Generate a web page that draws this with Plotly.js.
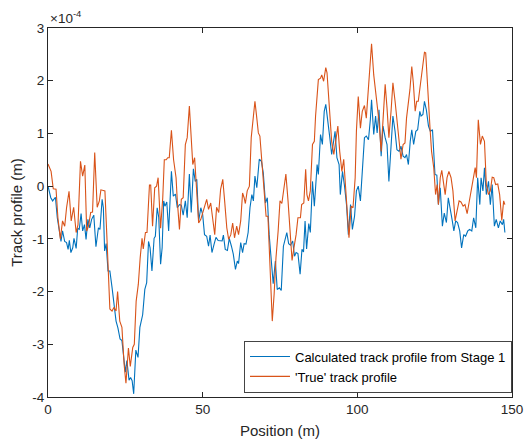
<!DOCTYPE html>
<html>
<head>
<meta charset="utf-8">
<script src="https://cdn.plot.ly/plotly-3.0.1.min.js"></script>
<style>html,body{margin:0;padding:0;background:#fff;}#chart{width:529px;height:441px;}</style>
</head>
<body>
<div id="chart"></div>
<script>
// Values in units of 1e-4 m (axis shows x10^-4 multiplier)
const posCalc = [0,0.9,1.5,1.9,2.4,3,3.7,4.2,4.7,5.4,6,6.5,6.9,7.4,8,8.4,9.1,9.6,10.1,10.7,11.2,11.8,12.3,12.9,13.5,14.1,14.8,15.5,16.3,16.8,17.5,17.9,18.3,18.8,19.4,20,20.7,21.3,22,22.6,23.3,23.9,24.4,25,25.5,26.2,26.7,27.2,27.7,28.4,29.1,29.7,30.6,31.3,31.9,32.5,33,33.6,34.3,34.7,35.3,35.8,36.4,36.9,37.4,37.8,38.4,39,39.9,40.5,41.2,41.8,42.5,43.1,43.7,44.4,45,45.7,46.3,47,47.6,48.1,48.7,49.4,50,50.6,51.3,51.9,52.4,53,53.7,54.3,55,55.6,56.3,56.7,57.3,58,58.6,59.3,59.9,60.6,61.2,61.6,62.3,62.9,63.4,64,64.7,65.3,65.9,66.4,66.9,67.5,67.9,68.3,69,69.6,70.3,70.9,71.5,72.2,72.8,73.5,74.1,74.8,75.4,76.1,76.5,77.2,77.8,78.4,79.1,79.7,80.2,80.8,81.5,82.1,82.6,83.1,83.6,84.3,84.8,85.5,86.1,87,87.4,88.1,88.7,89.3,89.8,90.4,91.1,91.7,92.4,92.8,93.4,94.1,94.5,95.2,95.8,96.5,97.1,97.8,98.4,99.1,99.7,100.3,101,101.6,102.3,102.9,103.6,104.2,104.6,105.3,105.9,106.4,107,107.7,108.3,109,109.6,110.2,110.9,111.5,112.2,112.8,113.5,114.1,114.8,115.4,115.9,116.5,117.1,117.6,118.2,118.9,119.5,120.2,120.6,121.2,121.7,122.3,123,123.6,124.3,124.7,125.1,125.7,126.2,126.8,127.5,128.1,128.8,129.4,130.1,130.7,131.2,131.8,132.4,133.1,133.7,134.4,135,135.7,136.3,137,137.6,138.3,138.9,139.6,140,140.6,141.1,141.7,142.4,143,143.6,144.3,144.9,145.6,146.2,146.9,147.3,147.7];
const calcProfile = [0,-0.22,-0.28,-0.25,-0.21,-0.6,-0.85,-1.05,-0.85,-1.05,-1.07,-1.2,-1.03,-1.26,-1.17,-0.99,-1.18,-0.8,-0.82,-0.52,-0.85,-0.73,-1.01,-0.63,-0.79,-0.63,-0.55,-1.15,-0.79,-0.82,-0.25,-0.41,-1.23,-1.09,-1.61,-1.61,-1.92,-2.24,-2.56,-2.69,-2.9,-2.93,-3.25,-3.53,-3.31,-3.68,-3.63,-3.69,-3.94,-3.11,-3.25,-2.68,-2.44,-1.96,-1.83,-1.05,-1.17,-1.61,-0.99,-0.95,-0.41,-0.59,-1.48,-1.17,-0.28,-0.38,-0.3,-0.85,0.28,-0.19,-0.15,-0.41,-0.35,-0.36,-0.55,-0.28,-0.6,0.23,-0.5,0.33,0.09,0.13,-0.66,-0.41,-0.54,-0.92,-0.95,-1.14,-0.93,-1.26,-1.1,-0.97,-1.03,-1.04,-1.04,-0.93,-1.2,-1.22,-0.99,-1.14,-1.29,-1.58,-1.42,-1.47,-1.07,-1.26,-1.09,-1.1,-0.88,-0.41,-0.16,-0.28,0.19,-0.03,0.28,0.51,0.47,0.25,-0.32,-0.22,-0.92,-1.42,-1.85,-1.42,-1.96,-1.93,-1.98,-1.14,-1.04,-0.88,-1.09,-1.12,-1.04,-1.33,-1.26,-1.28,-1.67,-1.2,-1.25,-0.66,-1.19,-0.71,-0.88,0.09,-0.38,0.41,0.22,0.98,0.79,1.42,1.55,1.29,0.92,0.6,0.92,1.04,0.54,0.41,-0.16,0.28,0.03,-0.35,-0.92,-0.35,-0.82,-0.57,-0.09,0,-0.28,0.35,0.92,0.95,0.88,1.26,1.64,0.98,1.33,1.01,1.45,0.57,1.14,0.92,0.79,0.09,0.73,1.33,1.04,0.69,0.66,0.76,0.57,0.54,0.6,0.41,0.85,1.07,0.79,1.04,1.07,1.42,1.33,1.36,1.61,1.45,1.14,1.04,1.07,0.66,0.22,0.21,-0.35,-0.03,-0.76,-0.51,-0.69,-0.22,-0.51,-0.66,-0.85,-0.66,-0.69,-0.85,-1.17,-0.92,-0.95,-0.85,-0.82,-0.85,-0.6,-0.79,0.16,-0.35,0.16,-0.09,0.35,-0.16,0.09,-0.35,0.03,-0.76,-0.63,-0.79,-0.66,-0.73,-0.63,-0.88];
const posTrue = [0,1,1.7,2.6,3.2,4,4.7,5.4,6,6.8,7.5,8.3,9.1,9.7,10.5,11.2,11.9,12.5,13.1,13.8,14.4,15.1,15.9,16.6,17.1,17.9,18.4,19,19.6,20,20.7,21.3,22,22.5,23.2,23.9,24.6,25.2,26,26.6,27.4,27.9,28.5,29.2,29.8,30.4,30.8,31.5,32,32.8,33.2,33.8,34.5,35.1,35.6,36.4,37.1,37.6,38.2,38.7,39.2,39.9,40.6,41.4,41.8,42.5,43.1,43.7,44.4,45,45.7,46.3,46.8,47.4,48.1,48.7,49.4,50,50.6,51.3,51.9,52.6,53.2,53.9,54.5,55.2,55.8,56.5,57.1,57.8,58.4,59.1,59.7,60.3,61,61.6,62.3,62.9,63.4,63.8,64.4,65.1,65.7,66.4,66.9,67.5,68,68.5,69.2,69.8,70.5,71.1,71.8,72.5,73.1,73.7,74.4,75,75.6,76.3,76.9,77.6,78.2,78.9,79.5,80.2,80.8,81.6,82,82.7,83.3,83.7,84.2,84.8,85.5,86.1,86.5,87,87.4,88.1,88.5,89.1,89.8,90.2,90.6,91.1,91.7,92.4,93,93.7,94.3,95,95.6,96.2,96.9,97.3,98,98.6,99.3,99.7,100.3,101,101.6,102.3,102.9,103.6,104.2,104.6,105.3,106,106.4,107,107.7,108.3,109,109.6,110.2,110.9,111.5,112.2,112.8,113.5,114.1,114.8,115.4,115.9,116.5,117,117.6,118.1,118.7,119.2,119.7,120.4,121,121.7,122.1,122.5,123,123.5,124,124.7,125.3,125.8,126.2,126.8,127.3,127.8,128.4,129,129.6,130.3,130.9,131.6,132.2,132.9,133.5,134.2,134.8,135.5,136.1,136.8,137.4,138.1,138.5,139.1,139.8,140.4,141.1,141.7,142.4,143,143.6,144.1,144.7,145.4,146,146.7,147.3,147.7];
const trueProfile = [0.42,0.28,-0.05,-0.06,-0.6,-1.0,-0.66,-0.76,-0.41,-0.1,-0.66,-0.4,-0.88,-0.73,0.47,0.19,0.4,-0.85,-0.76,-0.5,-0.49,0.64,-0.4,-0.28,-0.07,-0.08,-0.09,-0.91,-1.64,-2.33,-2.37,-2.3,-2.37,-2.0,-2.56,-2.68,-3.38,-3.74,-3.07,-3.42,-3.06,-3.0,-2.18,-1.86,-1.36,-0.99,-1.19,-0.88,-0.88,0.02,0.02,-0.76,-0.03,0,0.16,-0.8,-0.22,0.5,0.5,0.54,0.54,1.06,0.5,0.16,-0.28,-0.82,-0.25,-0.22,0.79,0.92,1.52,0.79,0.41,0.54,-0.03,-0.7,-0.63,-0.5,-0.41,-0.25,-0.44,-0.32,-0.6,-0.92,-0.4,-0.5,-0.06,0.13,-0.28,-0.79,-1.01,-0.92,-0.7,-0.98,-0.76,-0.92,-0.66,-0.13,-0.22,-0.33,-0.09,0,0.92,1.29,1.61,1.29,1.01,0.95,0.47,0.03,-0.57,-0.57,-1.42,-2.56,-2.05,-1.36,-0.85,-0.28,-0.33,0,0.23,-0.28,-0.82,-1.41,-1.17,-0.92,-0.6,-0.6,-0.35,-0.32,0.32,-0.16,-0.28,-0.09,0.79,0.85,1.33,1.83,2.02,2.05,2.11,1.99,2.25,2.15,1.77,1.42,0.85,0.6,0.85,1.14,0.66,0.28,0.51,-0.03,-0.73,-0.98,-0.38,-0.41,0.16,1.04,1.7,1.1,1.42,1.53,1.29,1.83,2.24,2.7,2.11,1.7,1.48,1.23,0.66,1.33,1.93,1.48,0.92,1.42,1.96,1.61,1.26,0.85,0.51,0.79,0.82,1.29,1.55,1.83,2.27,1.96,1.42,1.61,1.61,1.93,2.18,2.54,2.53,2.05,1.42,1.1,0.66,0.35,-0.16,0.03,-0.35,0.16,0.3,0.09,-0.16,0.16,0.28,0.16,-0.09,-0.66,-0.51,-0.28,-0.3,-0.38,-0.35,-0.52,-0.32,-0.09,0.06,0.35,0.16,1.26,0.79,0.95,0.85,0.03,-0.16,-0.09,0.17,0.16,0.03,0.04,-0.16,-0.65,-0.28,-0.35];
const seriesNames = ["Calculated track profile from Stage 1", "'True' track profile"];
const xTicks = [0, 50, 100, 150];
const yTicks = [-4, -3, -2, -1, 0, 1, 2, 3];

const axisColor = '#262626';
const fontFam = '"Liberation Sans", Arial, Helvetica, sans-serif';

const traces = [
  {x: posCalc, y: calcProfile, type: 'scatter', mode: 'lines', name: seriesNames[0],
   line: {color: '#0072BD', width: 1.1}},
  {x: posTrue, y: trueProfile, type: 'scatter', mode: 'lines', name: seriesNames[1],
   line: {color: '#D95319', width: 1.1}}
];

const axisCommon = {
  showgrid: false, zeroline: false, showline: true, mirror: 'ticks',
  linecolor: axisColor, linewidth: 1, ticks: 'inside', ticklen: 5, tickwidth: 1,
  tickcolor: axisColor, tickfont: {family: fontFam, size: 13.5, color: axisColor}
};

const layout = {
  width: 529, height: 441,
  margin: {l: 48, r: 17, t: 28, b: 44},
  paper_bgcolor: '#fff', plot_bgcolor: '#fff',
  font: {family: fontFam, color: axisColor},
  showlegend: true,
  legend: {x: 1.0, y: 0.012, xanchor: 'right', yanchor: 'bottom',
    bgcolor: '#fff', bordercolor: '#444', borderwidth: 1,
    font: {family: fontFam, size: 13, color: '#000'},
    tracegroupgap: 0, itemwidth: 40},
  xaxis: Object.assign({}, axisCommon, {
    range: [0, 150], tickvals: xTicks, ticktext: xTicks.map(String),
    title: {text: 'Position (m)', font: {family: fontFam, size: 15, color: axisColor}, standoff: 9}
  }),
  yaxis: Object.assign({}, axisCommon, {
    range: [-4, 3], tickvals: yTicks, ticktext: yTicks.map(String),
    title: {text: 'Track profile (m)', font: {family: fontFam, size: 15, color: axisColor}, standoff: 6}
  }),
  annotations: [{
    xref: 'paper', yref: 'paper', x: 0, y: 1, xanchor: 'left', yanchor: 'bottom',
    xshift: 0, yshift: 0, showarrow: false,
    text: '\u00d710<sup>-4</sup>', font: {family: fontFam, size: 13.5, color: axisColor}
  }]
};

Plotly.newPlot('chart', traces, layout, {displayModeBar: false, staticPlot: true});
</script>
</body>
</html>
